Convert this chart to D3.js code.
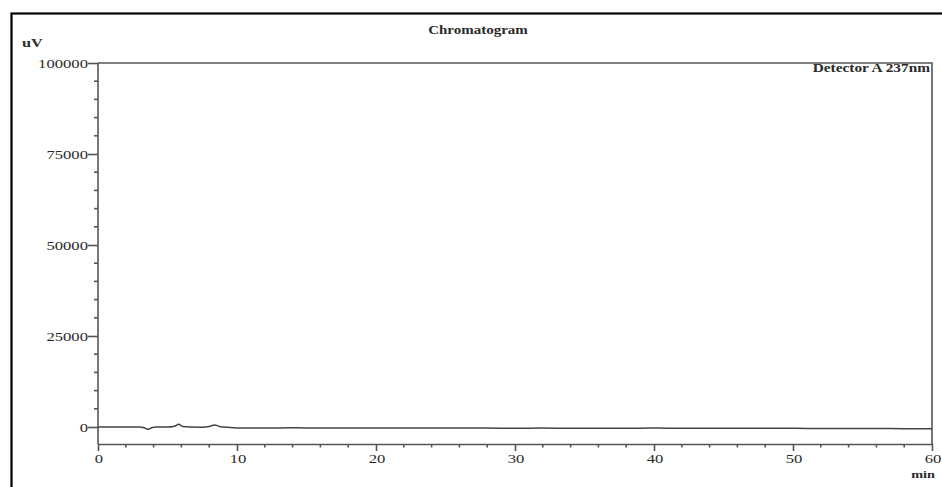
<!DOCTYPE html>
<html>
<head>
<meta charset="utf-8">
<script src="https://cdn.jsdelivr.net/npm/d3@7"></script>
<style>
  html, body { margin: 0; padding: 0; background: #fff; }
  svg { display: block; }
  text { font-family: "Liberation Serif", "DejaVu Serif", serif; }
</style>
</head>
<body>
<svg id="chart" width="942" height="487"></svg>
<script>
// Chromatogram trace: retention time (min) and detector signal (uV)
const times   = [0, 1, 2, 3, 3.3, 3.6, 3.9, 4.2, 5, 5.5, 5.8, 6.1, 6.6, 7.5, 8.0, 8.4, 8.8, 9.3, 10, 12, 14, 16, 18, 20, 22, 24, 26, 28, 30, 32, 34, 36, 38, 40, 42, 44, 46, 48, 50, 52, 54, 56, 58, 60];
const signal  = [0, 20, 0, 30, -200, -600, -150, 0, -30, 200, 750, 150, 0, -40, 150, 550, 100, -50, -250, -300, -230, -280, -250, -260, -300, -250, -280, -300, -320, -300, -330, -320, -350, -300, -350, -330, -310, -360, -350, -420, -430, -440, -450, -460];

const xTicks = [0, 10, 20, 30, 40, 50, 60];
const yTicks = [0, 25000, 50000, 75000, 100000];
const xMinorStep = 2;
const yMinorStep = 5000;

const title = "Chromatogram";
const detectorLabel = "Detector A 237nm";
const yUnit = "uV";
const xUnit = "min";

const svg = d3.select("#chart");
const textColor = "#2a2a2a";
const axisColor = "#555";
const stretch = 1.28;   // the instrument printout uses a wide serif face

// outer frame
svg.append("rect")
  .attr("x", 11.5).attr("y", 13.5)
  .attr("width", 960).attr("height", 500)
  .attr("fill", "none").attr("stroke", "#000").attr("stroke-width", 2.2);

const plotLeft = 98, plotRight = 932, plotTop = 63, axisY = 444;

const x = d3.scaleLinear().domain([0, 60]).range([plotLeft, plotRight]);
const y = d3.scaleLinear().domain([0, 100000]).range([427, plotTop]);

// plot box: top and right edges
svg.append("path")
  .attr("d", `M${plotLeft},${plotTop}H${plotRight}V${axisY}`)
  .attr("fill", "none").attr("stroke", axisColor).attr("stroke-width", 1.6);

// wide text placed at (px, py)
function wideText(sel, px, py, str, opts) {
  const t = sel.append("text")
    .attr("transform", `translate(${px},${py}) scale(${opts.sx || stretch},1)`)
    .attr("text-anchor", opts.anchor || "start")
    .attr("font-size", opts.size || 12)
    .attr("font-weight", opts.weight || "normal")
    .attr("fill", textColor)
    .text(str);
  return t;
}

// x axis
const xAxisG = svg.append("g").attr("transform", `translate(0,${axisY})`);
const xMinor = d3.range(0, 60 + 1e-9, xMinorStep).filter(v => !xTicks.includes(v));
xAxisG.selectAll("line.minor").data(xMinor).join("line")
  .attr("x1", d => x(d)).attr("x2", d => x(d))
  .attr("y1", 0).attr("y2", 3.5)
  .attr("stroke", axisColor).attr("stroke-width", 1.6);
xAxisG.call(d3.axisBottom(x).tickValues(xTicks).tickSize(7).tickSizeOuter(0).tickFormat(""))
  .call(g => g.select(".domain").attr("stroke", axisColor).attr("stroke-width", 1.6))
  .call(g => g.selectAll(".tick line").attr("stroke", axisColor).attr("stroke-width", 1.6));
xTicks.forEach(v => wideText(svg, x(v) + 1, 463, String(v), { anchor: "middle", size: 13 }));

// y axis
const yAxisG = svg.append("g").attr("transform", `translate(${plotLeft},0)`);
const yMinor = d3.range(-yMinorStep, 100000, yMinorStep).filter(v => !yTicks.includes(v) && y(v) <= axisY);
yAxisG.selectAll("line.minor").data(yMinor).join("line")
  .attr("x1", -4).attr("x2", 0)
  .attr("y1", d => y(d)).attr("y2", d => y(d))
  .attr("stroke", axisColor).attr("stroke-width", 1.6);
yAxisG.call(d3.axisLeft(y).tickValues(yTicks).tickSize(10).tickSizeOuter(0).tickFormat(""))
  .call(g => g.select(".domain").attr("d", `M0,${plotTop}V${axisY}`)
    .attr("stroke", axisColor).attr("stroke-width", 1.6))
  .call(g => g.selectAll(".tick line").attr("stroke", axisColor).attr("stroke-width", 1.6));
yTicks.forEach(v => wideText(svg, plotLeft - 10, y(v) + 4.5, d3.format("d")(v), { anchor: "end", size: 13 }));

// trace
const line = d3.line().x((d, i) => x(times[i])).y(d => y(d)).curve(d3.curveMonotoneX);
svg.append("path")
  .datum(signal)
  .attr("d", line)
  .attr("fill", "none").attr("stroke", "#444").attr("stroke-width", 1.5);

// texts
wideText(svg, 478, 34, title, { anchor: "middle", size: 12, weight: "bold", sx: 1.25 });
wideText(svg, 930, 72, detectorLabel, { anchor: "end", size: 12, weight: "bold", sx: 1.28 });
wideText(svg, 22, 47, yUnit, { size: 12, weight: "bold", sx: 1.35 });
wideText(svg, 935, 478, xUnit, { anchor: "end", size: 11, weight: "bold", sx: 1.3 });
</script>
</body>
</html>
